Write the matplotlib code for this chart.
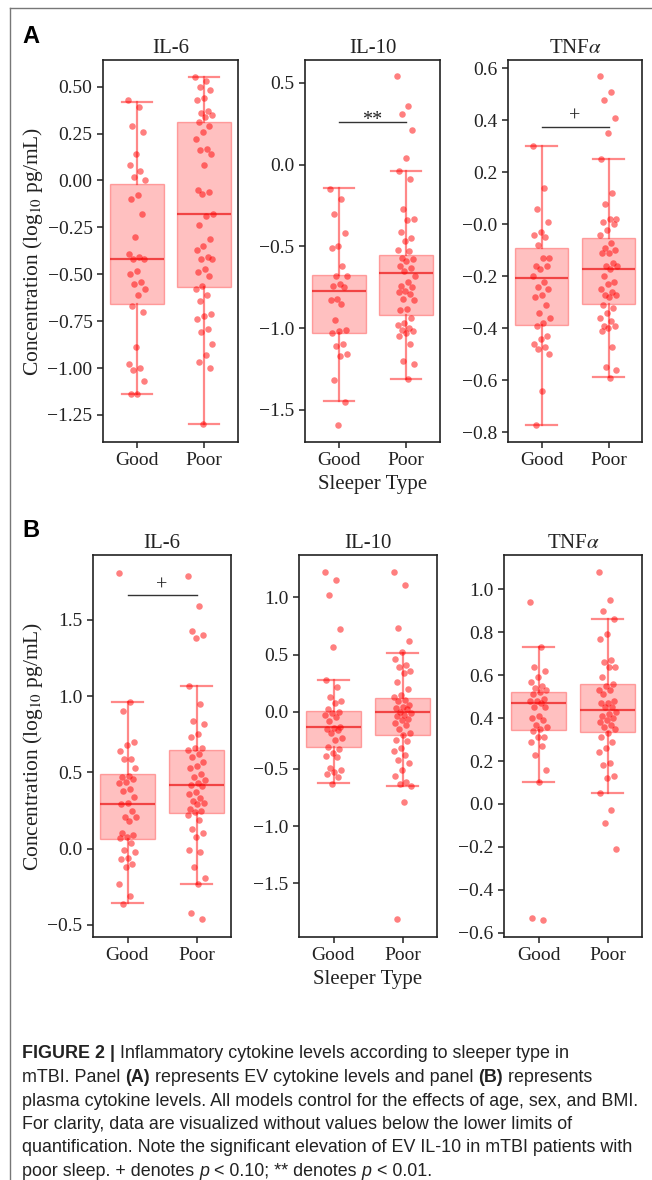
import numpy as np
import matplotlib
matplotlib.use("Agg")
import matplotlib.pyplot as plt
from matplotlib import font_manager
from matplotlib.lines import Line2D

plt.rcParams["font.family"] = "Liberation Serif"
plt.rcParams["mathtext.fontset"] = "stix"

# ===============================
# Data
# ===============================

groups = ["Good", "Poor"]
titles = ["IL-6", "IL-10", r"TNF$\alpha$"]

# Panel A: EV cytokines
ev_il6_good = [0.43, 0.39, 0.29, 0.26, 0.14, 0.08, 0.05, 0.02, 0.00, -0.08, -0.10, -0.18, -0.30, -0.39,
               -0.41, -0.42, -0.42, -0.48, -0.50, -0.54, -0.55, -0.58, -0.61, -0.67, -0.70, -0.89,
               -0.98, -1.00, -1.01, -1.07, -1.14, -1.14]
ev_il6_poor = [0.55, 0.53, 0.50, 0.48, 0.44, 0.43, 0.37, 0.36, 0.35, 0.34, 0.31, 0.29, 0.26, 0.22, 0.17,
               0.16, 0.14, 0.08, -0.05, -0.06, -0.07, -0.18, -0.19, -0.24, -0.31, -0.35, -0.37, -0.41,
               -0.42, -0.42, -0.47, -0.49, -0.51, -0.56, -0.58, -0.61, -0.64, -0.71, -0.72, -0.74,
               -0.79, -0.81, -0.87, -0.93, -0.97, -1.00, -1.30]
ev_il10_good = [-0.15, -0.21, -0.30, -0.42, -0.50, -0.51, -0.62, -0.68, -0.68, -0.73, -0.74, -0.75,
                -0.82, -0.83, -0.85, -0.95, -1.01, -1.02, -1.03, -1.10, -1.11, -1.16, -1.17, -1.32,
                -1.45, -1.59]
ev_il10_poor = [0.54, 0.36, 0.31, 0.21, 0.04, -0.04, -0.09, -0.27, -0.33, -0.34, -0.41, -0.45, -0.47,
                -0.52, -0.53, -0.57, -0.58, -0.59, -0.62, -0.63, -0.65, -0.68, -0.72, -0.74, -0.75,
                -0.77, -0.78, -0.79, -0.82, -0.83, -0.88, -0.89, -0.94, -0.97, -0.98, -1.00, -1.01,
                -1.02, -1.03, -1.05, -1.10, -1.20, -1.22, -1.31]
ev_tnf_good = [0.30, 0.14, 0.06, 0.01, -0.03, -0.04, -0.05, -0.08, -0.13, -0.13, -0.16, -0.16, -0.17,
               -0.20, -0.22, -0.24, -0.25, -0.27, -0.28, -0.31, -0.34, -0.36, -0.38, -0.39, -0.43,
               -0.44, -0.46, -0.47, -0.48, -0.50, -0.64, -0.77]
ev_tnf_poor = [0.57, 0.51, 0.48, 0.41, 0.35, 0.25, 0.12, 0.08, 0.02, 0.02, 0.01, 0.00, -0.02, -0.04,
               -0.07, -0.09, -0.10, -0.11, -0.11, -0.15, -0.16, -0.16, -0.17, -0.20, -0.22, -0.23,
               -0.25, -0.26, -0.27, -0.27, -0.28, -0.31, -0.32, -0.34, -0.36, -0.37, -0.39, -0.39,
               -0.40, -0.41, -0.47, -0.55, -0.56, -0.59]

# Panel B: plasma cytokines
pl_il6_good = [1.81, 0.96, 0.90, 0.70, 0.68, 0.64, 0.59, 0.59, 0.53, 0.48, 0.47, 0.46, 0.44, 0.43, 0.39,
               0.38, 0.34, 0.30, 0.29, 0.25, 0.21, 0.21, 0.18, 0.10, 0.09, 0.08, 0.07, 0.04, -0.01,
               -0.02, -0.06, -0.07, -0.10, -0.12, -0.23, -0.31, -0.36]
pl_il6_poor = [1.79, 1.59, 1.43, 1.40, 1.38, 1.07, 0.95, 0.84, 0.82, 0.75, 0.73, 0.66, 0.66, 0.65, 0.62,
               0.60, 0.57, 0.54, 0.53, 0.49, 0.47, 0.45, 0.43, 0.42, 0.41, 0.37, 0.36, 0.33, 0.31, 0.30,
               0.29, 0.26, 0.25, 0.24, 0.22, 0.19, 0.13, 0.10, 0.08, -0.01, -0.02, -0.12, -0.19, -0.23,
               -0.42, -0.46]
pl_il10_good = [1.22, 1.15, 1.02, 0.72, 0.57, 0.28, 0.22, 0.13, 0.09, 0.08, 0.02, 0.00, -0.01, -0.03,
                -0.05, -0.08, -0.13, -0.14, -0.15, -0.16, -0.19, -0.23, -0.25, -0.31, -0.33, -0.36,
                -0.39, -0.40, -0.49, -0.51, -0.53, -0.54, -0.57, -0.63]
pl_il10_poor = [1.22, 1.11, 0.73, 0.62, 0.52, 0.46, 0.41, 0.39, 0.36, 0.34, 0.26, 0.20, 0.15, 0.13, 0.10,
                0.09, 0.06, 0.04, 0.03, 0.02, 0.00, -0.01, -0.03, -0.04, -0.06, -0.07, -0.10, -0.12,
                -0.15, -0.19, -0.20, -0.25, -0.26, -0.32, -0.34, -0.38, -0.42, -0.45, -0.51, -0.56,
                -0.61, -0.63, -0.65, -0.79, -1.81]
pl_tnf_good = [0.94, 0.73, 0.64, 0.62, 0.59, 0.57, 0.55, 0.54, 0.53, 0.52, 0.51, 0.49, 0.48, 0.48, 0.47,
               0.45, 0.45, 0.41, 0.40, 0.39, 0.37, 0.36, 0.35, 0.34, 0.31, 0.31, 0.29, 0.27, 0.23, 0.16,
               0.10, -0.53, -0.54]
pl_tnf_poor = [1.08, 0.95, 0.90, 0.86, 0.79, 0.77, 0.67, 0.66, 0.64, 0.64, 0.59, 0.56, 0.55, 0.53, 0.53,
               0.51, 0.48, 0.47, 0.47, 0.45, 0.45, 0.43, 0.42, 0.41, 0.40, 0.39, 0.38, 0.37, 0.36, 0.35,
               0.33, 0.31, 0.29, 0.26, 0.24, 0.19, 0.18, 0.13, 0.12, 0.05, -0.03, -0.09, -0.21]

# box stats as drawn: [whisker low, Q1, median, Q3, whisker high]
ev_il6_box = [[-1.14, -0.66, -0.42, -0.02, 0.42], [-1.30, -0.57, -0.18, 0.31, 0.55]]
ev_il10_box = [[-1.446, -1.028, -0.771, -0.676, -0.146], [-1.311, -0.922, -0.665, -0.555, -0.04]]
ev_tnf_box = [[-0.77, -0.387, -0.208, -0.09, 0.30], [-0.586, -0.308, -0.173, -0.051, 0.253]]
pl_il6_box = [[-0.358, 0.064, 0.293, 0.49, 0.964], [-0.231, 0.237, 0.418, 0.648, 1.067]]
pl_il10_box = [[-0.626, -0.311, -0.136, 0.009, 0.277], [-0.649, -0.203, -0.005, 0.123, 0.516]]
pl_tnf_box = [[0.104, 0.344, 0.469, 0.523, 0.733], [0.049, 0.337, 0.438, 0.559, 0.862]]

# significance: (label, bar height)
ev_il10_sig = ("**", 0.26)
ev_tnf_sig = ("+", 0.376)
pl_il6_sig = ("+", 1.662)

caption_lines = [
    [("FIGURE 2 | ", "bold", "normal"), ("Inflammatory cytokine levels according to sleeper type in", "normal", "normal")],
    [("mTBI. Panel ", "normal", "normal"), ("(A)", "bold", "normal"),
     (" represents EV cytokine levels and panel ", "normal", "normal"), ("(B)", "bold", "normal"),
     (" represents", "normal", "normal")],
    [("plasma cytokine levels. All models control for the effects of age, sex, and BMI.", "normal", "normal")],
    [("For clarity, data are visualized without values below the lower limits of", "normal", "normal")],
    [("quantification. Note the significant elevation of EV IL-10 in mTBI patients with", "normal", "normal")],
    [("poor sleep. + denotes ", "normal", "normal"), ("p", "normal", "italic"),
     (" < 0.10; ** denotes ", "normal", "normal"), ("p", "normal", "italic"), (" < 0.01.", "normal", "normal")],
]

# ===============================
# Figure
# ===============================

W, H = 652, 1180
fig = plt.figure(figsize=(W / 100, H / 100), dpi=100)
INK = "#222222"


def px_axes(l, t, r, b):
    return fig.add_axes([l / W, 1 - b / H, (r - l) / W, (b - t) / H])


def draw_box(ax, good, poor, box, ylim, yticks, fmt, title, sig=None):
    stats = [dict(whislo=s[0], q1=s[1], med=s[2], q3=s[3], whishi=s[4], fliers=[]) for s in box]
    ax.bxp(stats, positions=[0, 1], widths=0.8, patch_artist=True, showfliers=False, capwidths=0.45,
           boxprops=dict(facecolor=(1, 0.05, 0.05, 0.26), edgecolor=(1, 0.1, 0.1, 0.35), linewidth=1),
           medianprops=dict(color=(0.93, 0.1, 0.1, 0.75), linewidth=1.6),
           whiskerprops=dict(color=(1, 0.15, 0.15, 0.55), linewidth=1.6),
           capprops=dict(color=(1, 0.15, 0.15, 0.55), linewidth=1.6))
    for i, vals in enumerate((good, poor)):
        vals = np.asarray(vals)
        off = ((np.arange(len(vals)) * 0.618034) % 1 - 0.5) * 0.26
        ax.scatter(i + off, vals, s=22, color="red", alpha=0.5, linewidths=0, zorder=3)
    ax.set_xlim(-0.5, 1.5)
    ax.set_ylim(*ylim)
    ax.set_xticks([0, 1])
    ax.set_xticklabels(groups)
    ax.set_yticks(yticks)
    ax.set_yticklabels([fmt.format(v).replace("-", "\u2212") for v in yticks])
    ax.tick_params(direction="out", length=4, width=1.1, labelsize=14, colors=INK)
    for sp in ax.spines.values():
        sp.set_linewidth(1.2)
        sp.set_color(INK)
    ax.set_title(title, fontsize=15, pad=5, color=INK)
    if sig is not None:
        label, y = sig
        ax.plot([0, 1], [y, y], color="#333333", lw=1)
        dy = -3 if label == "**" else 5
        ax.annotate(label, (0.5, y), xytext=(0, dy), textcoords="offset pixels",
                    ha="center", va="baseline", fontsize=14.5, color=INK)


ylab = r"Concentration (log$_{10}$ pg/mL)"

# panel A
ax = px_axes(103, 60, 238, 442)
draw_box(ax, ev_il6_good, ev_il6_poor, ev_il6_box, (-1.394, 0.642),
         np.arange(-1.25, 0.51, 0.25), "{:.2f}", titles[0])
ax.set_ylabel(ylab, fontsize=15.5, labelpad=2, color=INK)
ax = px_axes(305, 60, 440, 442)
draw_box(ax, ev_il10_good, ev_il10_poor, ev_il10_box, (-1.696, 0.639),
         np.arange(-1.5, 0.51, 0.5), "{:.1f}", titles[1], ev_il10_sig)
ax.set_xlabel("Sleeper Type", fontsize=15, labelpad=4, color=INK)
ax = px_axes(508, 60, 642, 442)
draw_box(ax, ev_tnf_good, ev_tnf_poor, ev_tnf_box, (-0.837, 0.632),
         np.arange(-0.8, 0.61, 0.2), "{:.1f}", titles[2], ev_tnf_sig)

# panel B
ax = px_axes(93, 555, 231, 937)
draw_box(ax, pl_il6_good, pl_il6_poor, pl_il6_box, (-0.579, 1.926),
         np.arange(-0.5, 1.51, 0.5), "{:.1f}", titles[0], pl_il6_sig)
ax.set_ylabel(ylab, fontsize=15.5, labelpad=2, color=INK)
ax = px_axes(299, 555, 437, 937)
draw_box(ax, pl_il10_good, pl_il10_poor, pl_il10_box, (-1.969, 1.37),
         np.arange(-1.5, 1.01, 0.5), "{:.1f}", titles[1])
ax.set_xlabel("Sleeper Type", fontsize=15, labelpad=4, color=INK)
ax = px_axes(504, 555, 642, 937)
draw_box(ax, pl_tnf_good, pl_tnf_poor, pl_tnf_box, (-0.62, 1.16),
         np.arange(-0.6, 1.01, 0.2), "{:.1f}", titles[2])

# panel letters
for letter, ypx in (("A", 43), ("B", 537)):
    fig.text(22 / W, 1 - ypx / H, letter, family="Liberation Sans", weight="bold",
             fontsize=17, va="baseline", ha="left")

# frame lines
fig.add_artist(Line2D([10 / W, 1], [1 - 8 / H, 1 - 8 / H], transform=fig.transFigure,
                      color="#777777", lw=1))
fig.add_artist(Line2D([10 / W, 10 / W], [0, 1 - 8 / H], transform=fig.transFigure,
                      color="#777777", lw=1))

# ===============================
# Caption
# ===============================

names = {f.name for f in font_manager.fontManager.ttflist}
cap_family = "Liberation Sans Narrow" if "Liberation Sans Narrow" in names else "Liberation Sans"
renderer = fig.canvas.get_renderer()


def text_width(s, size, weight="normal", style="normal"):
    kw = dict(family=cap_family, fontsize=size, weight=weight, style=style)
    t1 = fig.text(0, 0, s + "|", **kw)
    t2 = fig.text(0, 0, "|", **kw)
    w = t1.get_window_extent(renderer).width - t2.get_window_extent(renderer).width
    t1.remove()
    t2.remove()
    return w


# fit the longest line to its width in the reference
cap_size = 10 * 620 / text_width(caption_lines[2][0][0], 10)
baselines = [1058, 1082, 1105.5, 1129, 1152.5, 1176]
for line, ypx in zip(caption_lines, baselines):
    x = 22
    for s, weight, style in line:
        fig.text(x / W, 1 - ypx / H, s, family=cap_family, fontsize=cap_size, weight=weight,
                 style=style, va="baseline", ha="left", color=INK)
        x += text_width(s, cap_size, weight, style)

fig.savefig("out.png", dpi=100)
